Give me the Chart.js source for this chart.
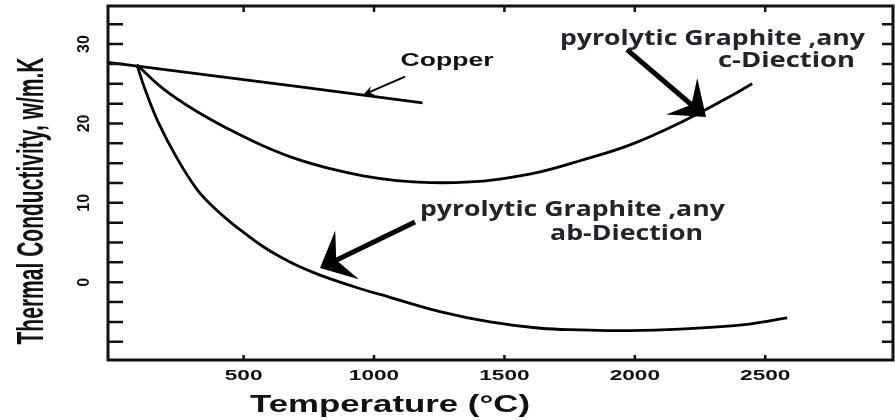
<!DOCTYPE html>
<html><head><meta charset="utf-8">
<script src="https://cdn.jsdelivr.net/npm/chart.js@4.4.0/dist/chart.umd.min.js"></script>
<style>html,body{margin:0;padding:0;background:#fff;}</style>
</head><body>
<canvas id="c" width="895" height="420"></canvas>
<script>
// ---- data ----
const copperTemp = [-20, 718, 1186];
const copperK    = [27.7, 24.6, 22.6];
const cTemp = [91, 191, 321, 448, 574, 705, 832, 958, 1088, 1215, 1350, 1483, 1637, 1790, 1982, 2174, 2365, 2450];
const cK    = [27.4, 24.4, 21.5, 19.2, 17.2, 15.5, 14.3, 13.4, 12.8, 12.55, 12.6, 13.0, 13.9, 15.3, 17.3, 20.1, 23.4, 25.0];
const abTemp = [91, 122, 172, 245, 321, 383, 448, 513, 574, 640, 705, 793, 927, 1061, 1253, 1445, 1637, 1790, 1982, 2174, 2431, 2584];
const abK    = [27.4, 24.3, 20.2, 15.6, 11.7, 9.5, 7.6, 5.95, 4.5, 3.2, 2.1, 0.9, -0.6, -1.9, -3.7, -5.0, -5.8, -6.0, -6.1, -5.9, -5.3, -4.5];
const xTickValues = [500, 1000, 1500, 2000, 2500];
const yTickValues = [-7.5, -5, -2.5, 0, 2.5, 5, 7.5, 10, 12.5, 15, 17.5, 20, 22.5, 25, 27.5, 30, 32.5];
const yTickLabels = [0, 10, 20, 30];
const xTitle = 'Temperature (°C)';
const yTitle = 'Thermal Conductivity, w/m.K';
const copperLabel = 'Copper';
const cLabel  = ['pyrolytic Graphite ,any', 'c-Diection'];
const abLabel = ['pyrolytic Graphite ,any', 'ab-Diection'];

function pts(xs, ys) { return xs.map((x, i) => ({x: x, y: ys[i]})); }

// annotation anchors in data units
const notes = [
  {text: copperLabel, x: 1102, y: 27.2, w: 93, font: 'bold 17.5px "Liberation Sans", Arial, sans-serif', color: '#111'},
  {text: cLabel[0], x: 1713, y: 29.9, w: 305, font: 'bold 21px "Open Sans", "Noto Sans", sans-serif', color: '#23232b'},
  {text: cLabel[1], x: 2319, y: 27.1, w: 137, font: 'bold 21px "Open Sans", "Noto Sans", sans-serif', color: '#23232b'},
  {text: abLabel[0], x: 1176, y: 8.3, w: 305, font: 'bold 21px "Open Sans", "Noto Sans", sans-serif', color: '#23232b'},
  {text: abLabel[1], x: 1675, y: 5.3, w: 153, font: 'bold 21px "Open Sans", "Noto Sans", sans-serif', color: '#23232b'}
];
const arrows = [
  {x0: 1119, y0: 25.9, x1: 958, y1: 23.6, lw: 2, L: 11, W: 5},
  {x0: 1970, y0: 29.3, x1: 2273, y1: 20.8, lw: 5, L: 32, W: 24},
  {x0: 1157, y0: 7.6, x1: 793, y1: 1.8, lw: 5, L: 30, W: 27}
];

function stretchText(ctx, text, x, y, font, sx, sy, align) {
  ctx.save();
  ctx.font = font;
  ctx.textAlign = align || 'left';
  ctx.textBaseline = 'alphabetic';
  ctx.translate(x, y);
  ctx.scale(sx, sy);
  ctx.fillText(text, 0, 0);
  ctx.restore();
}

const decor = {
  id: 'decor',
  afterDatasetsDraw(chart) {
    const ctx = chart.ctx, a = chart.chartArea, xs = chart.scales.x, ys = chart.scales.y;
    ctx.save();
    ctx.strokeStyle = '#111';
    ctx.fillStyle = '#111';
    // frame
    ctx.lineWidth = 3;
    ctx.strokeRect(a.left, a.top, a.right - a.left, a.bottom - a.top);
    // ticks
    ctx.lineWidth = 2.5;
    ctx.beginPath();
    yTickValues.forEach(v => {
      const p = ys.getPixelForValue(v);
      ctx.moveTo(a.left, p); ctx.lineTo(a.left + 15, p);
      ctx.moveTo(a.right, p); ctx.lineTo(a.right - 11, p);
    });
    xTickValues.forEach(v => {
      const p = xs.getPixelForValue(v);
      ctx.moveTo(p, a.bottom); ctx.lineTo(p, a.bottom - 5);
      ctx.moveTo(p, a.top); ctx.lineTo(p, a.top + 6);
    });
    ctx.stroke();
    // x tick labels
    xTickValues.forEach(v => {
      stretchText(ctx, String(v), xs.getPixelForValue(v), a.bottom + 20,
        'bold 14.5px "Liberation Sans", Arial, sans-serif', 1.56, 1, 'center');
    });
    // y tick labels (rotated)
    yTickLabels.forEach(v => {
      ctx.save();
      ctx.translate(89, ys.getPixelForValue(v));
      ctx.rotate(-Math.PI / 2);
      ctx.font = 'bold 16px "Liberation Sans", Arial, sans-serif';
      ctx.textAlign = 'center';
      ctx.textBaseline = 'alphabetic';
      ctx.fillText(String(v), 0, 0);
      ctx.restore();
    });
    // x title
    ctx.font = 'bold 23.5px "Liberation Sans", Arial, sans-serif';
    let w = ctx.measureText(xTitle).width;
    stretchText(ctx, xTitle, 390, 412, ctx.font, 280 / w, 1, 'center');
    // y title
    ctx.save();
    ctx.font = 'bold 21px "Liberation Sans", Arial, sans-serif';
    w = ctx.measureText(yTitle).width;
    ctx.translate(43, 201);
    ctx.rotate(-Math.PI / 2);
    ctx.scale(287 / w, 1.75);
    ctx.textAlign = 'center';
    ctx.fillText(yTitle, 0, 0);
    ctx.restore();
    // annotations
    notes.forEach(n => {
      ctx.font = n.font;
      const mw = ctx.measureText(n.text).width;
      ctx.fillStyle = n.color;
      stretchText(ctx, n.text, xs.getPixelForValue(n.x), ys.getPixelForValue(n.y), n.font, n.w / mw, 1, 'left');
    });
    // arrows
    ctx.fillStyle = '#000';
    ctx.strokeStyle = '#000';
    arrows.forEach(ar => {
      const x0 = xs.getPixelForValue(ar.x0), y0 = ys.getPixelForValue(ar.y0);
      const x1 = xs.getPixelForValue(ar.x1), y1 = ys.getPixelForValue(ar.y1);
      const dx = x1 - x0, dy = y1 - y0, len = Math.hypot(dx, dy);
      const ux = dx / len, uy = dy / len, px = -uy, py = ux;
      ctx.lineWidth = ar.lw;
      ctx.beginPath();
      ctx.moveTo(x0, y0);
      ctx.lineTo(x1 - ux * ar.L * 0.5, y1 - uy * ar.L * 0.5);
      ctx.stroke();
      const bx = x1 - ux * ar.L, by = y1 - uy * ar.L;
      ctx.beginPath();
      ctx.moveTo(x1, y1);
      ctx.lineTo(bx + px * ar.W, by + py * ar.W);
      ctx.lineTo(x1 - ux * ar.L * 0.6, y1 - uy * ar.L * 0.6);
      ctx.lineTo(bx - px * ar.W, by - py * ar.W);
      ctx.closePath();
      ctx.fill();
    });
    ctx.restore();
  }
};

const lineStyle = {borderColor: '#000', borderWidth: 2.8, pointRadius: 0, fill: false, tension: 0.4, capBezierPoints: true};

new Chart(document.getElementById('c'), {
  type: 'line',
  data: {
    datasets: [
      Object.assign({label: 'Copper', data: pts(copperTemp, copperK)}, lineStyle, {tension: 0}),
      Object.assign({label: 'pyrolytic Graphite, c-direction', data: pts(cTemp, cK)}, lineStyle),
      Object.assign({label: 'pyrolytic Graphite, ab-direction', data: pts(abTemp, abK)}, lineStyle)
    ]
  },
  options: {
    responsive: false,
    animation: false,
    devicePixelRatio: 1,
    layout: {padding: {left: 108, right: 2, top: 6, bottom: 60}},
    scales: {
      x: {type: 'linear', min: -20, max: 2990, display: false},
      y: {type: 'linear', min: -9.8, max: 34.8, display: false}
    },
    plugins: {legend: {display: false}, tooltip: {enabled: false}}
  },
  plugins: [decor]
});
</script>
</body></html>
